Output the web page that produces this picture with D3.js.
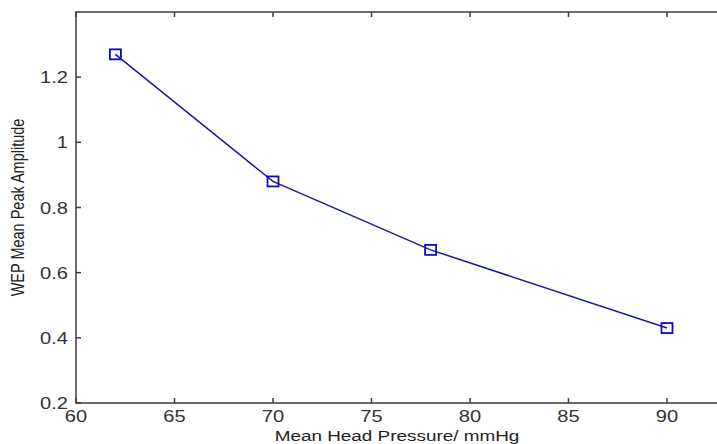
<!DOCTYPE html>
<html>
<head>
<meta charset="utf-8">
<script src="https://cdn.jsdelivr.net/npm/d3@7"></script>
<style>
	body { margin: 0; background: #fff; }
	svg { display: block; font-family: "Liberation Sans", Arial, sans-serif; }
</style>
</head>
<body>
<div id="chart"></div>
<script>
const pressure = [62, 70, 78, 90]
const amplitude = [1.27, 0.88, 0.67, 0.43]
const xTicks = [60, 65, 70, 75, 80, 85, 90]
const yTicks = [0.2, 0.4, 0.6, 0.8, 1, 1.2]

const width = 717, height = 444
const mLeft = 76, mTop = 12, mBottom = 403
const stretch = 1.22 // the source picture is a bit wider than tall

const x = d3.scaleLinear().domain([60, 90]).range([mLeft, 667])
const y = d3.scaleLinear().domain([0.2, 1.4]).range([mBottom, mTop])
const mRight = x(95)

const svg = d3.select("#chart")
	.append("svg")
	.attr("width", width)
	.attr("height", height)

const axisColor = "#3c3c3c"

// box (right side falls outside the picture)
svg.append("path")
	.attr("d", `M${mRight},${mTop}H${mLeft}V${mBottom}H${mRight}`)
	.attr("fill", "none")
	.attr("stroke", axisColor)
	.attr("stroke-width", 1.5)

// x ticks, bottom and top
const xt = svg.append("g")
xt.selectAll("line.b")
	.data(xTicks)
	.join("line")
	.attr("class", "b")
	.attr("x1", d => x(d)).attr("x2", d => x(d))
	.attr("y1", mBottom).attr("y2", mBottom - 5)
	.attr("stroke", axisColor).attr("stroke-width", 1.5)
xt.selectAll("line.t")
	.data(xTicks)
	.join("line")
	.attr("class", "t")
	.attr("x1", d => x(d)).attr("x2", d => x(d))
	.attr("y1", mTop).attr("y2", mTop + 5)
	.attr("stroke", axisColor).attr("stroke-width", 1.5)
xt.selectAll("text")
	.data(xTicks)
	.join("text")
	.attr("transform", d => `translate(${x(d)},422) scale(${stretch},1)`)
	.attr("text-anchor", "middle")
	.attr("font-size", 16.5)
	.attr("fill", "#333")
	.text(d => d)

// y ticks
const yt = svg.append("g")
yt.selectAll("line")
	.data(yTicks)
	.join("line")
	.attr("x1", mLeft).attr("x2", mLeft + 5)
	.attr("y1", d => y(d)).attr("y2", d => y(d))
	.attr("stroke", axisColor).attr("stroke-width", 1.5)
yt.selectAll("text")
	.data(yTicks)
	.join("text")
	.attr("transform", d => `translate(68,${y(d) + 6}) scale(${stretch},1)`)
	.attr("text-anchor", "end")
	.attr("font-size", 16.5)
	.attr("fill", "#333")
	.text(d => d)

// labels
svg.append("text")
	.attr("transform", `translate(397,441) scale(${stretch},1)`)
	.attr("text-anchor", "middle")
	.attr("font-size", 15.5)
	.attr("fill", "#222")
	.text("Mean Head Pressure/ mmHg")

svg.append("text")
	.attr("transform", `translate(24,${(mTop + mBottom) / 2}) scale(${stretch},1) rotate(-90)`)
	.attr("text-anchor", "middle")
	.attr("font-size", 14.5)
	.attr("fill", "#222")
	.text("WEP Mean Peak Amplitude")

// series
const pts = pressure.map((p, i) => [p, amplitude[i]])

svg.append("path")
	.datum(pts)
	.attr("fill", "none")
	.attr("stroke", "#1a1aa0")
	.attr("stroke-width", 1.5)
	.attr("d", d3.line().x(d => x(d[0])).y(d => y(d[1])))

svg.append("g")
	.selectAll("rect")
	.data(pts)
	.join("rect")
	.attr("x", d => x(d[0]) - 5.5)
	.attr("y", d => y(d[1]) - 5)
	.attr("width", 11)
	.attr("height", 10)
	.attr("fill", "none")
	.attr("stroke", "#0a0ac8")
	.attr("stroke-width", 1.8)
</script>
</body>
</html>
